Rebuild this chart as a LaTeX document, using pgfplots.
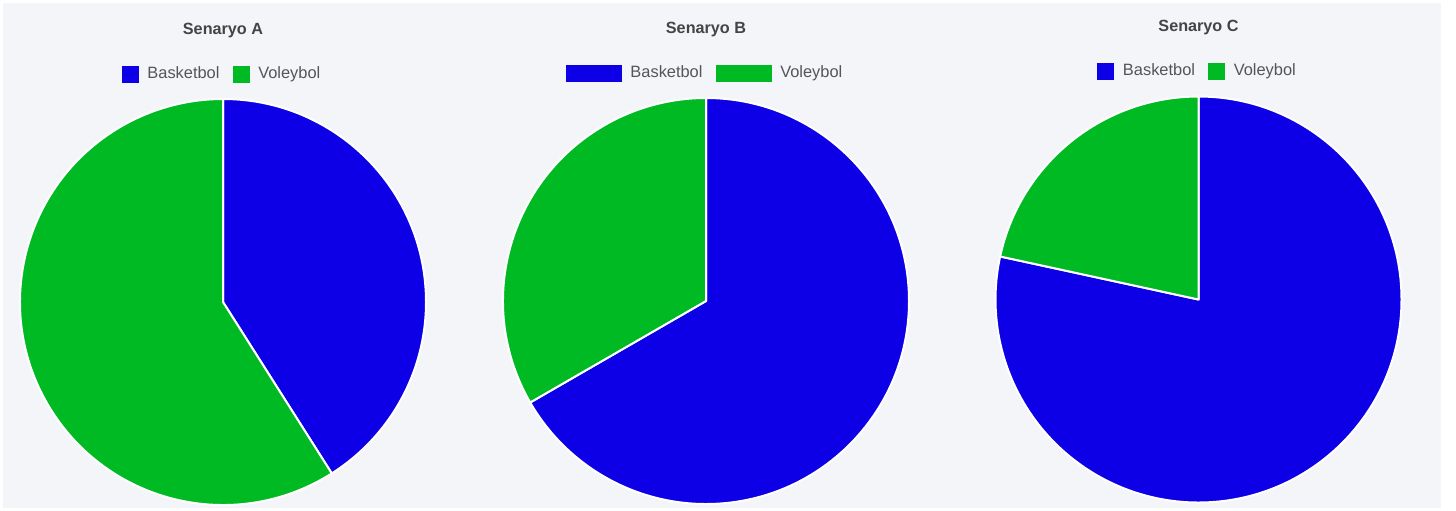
\documentclass[border=0pt]{standalone}
\usepackage{pgfplots}
\usepackage{pgfplotstable}
\pgfplotsset{compat=1.18}
\usepackage{fontspec}
\setmainfont{Liberation Sans}
\definecolor{bblue}{RGB}{14,0,230}
\definecolor{vgreen}{RGB}{0,186,36}
\definecolor{bg}{RGB}{244,245,249}
\definecolor{ttl}{RGB}{68,68,68}
\definecolor{lgd}{RGB}{85,85,85}

\pgfplotstableread{
senaryo basketbol voleybol
A 41 59
B 66.67 33.33
C 78.4 21.6
}\piedata

% #1 row, #2 cx px, #3 cy px, #4 title, #5 legend swatch width, #6 title shift
\newcommand\pie[6]{%
\pgfplotstablegetelem{#1}{basketbol}\of\piedata\edef\bval{\pgfplotsretval}%
\pgfplotstablegetelem{#1}{voleybol}\of\piedata\edef\vval{\pgfplotsretval}%
\pgfmathsetmacro\frac{\bval/(\bval+\vval)}%
\pgfmathsetmacro\ang{90-360*\frac}%
\begin{axis}[at={(#2*0.5pt,-#3*0.5pt)}, anchor=origin,
  scale only axis, width=203pt, height=203pt,
  xmin=-1, xmax=1, ymin=-1, ymax=1, axis lines=none, clip=false,
  title={#4},
  title style={at={(0.5,1)}, anchor=center, yshift=#6, font=\fontsize{8.1}{10}\selectfont\bfseries, text=ttl},
  legend columns=2,
  legend style={at={(0.5,1)}, anchor=center, yshift=12.5pt, draw=none, fill=none,
    font=\fontsize{8.2}{10}\selectfont, text=lgd,
    /tikz/every odd column/.append style={column sep=2.5pt},
    /tikz/every even column/.append style={column sep=4.5pt}},
  legend image code/.code={\fill[##1] (0pt,-4pt) rectangle (#5,4pt);}]
\addlegendimage{bblue}\addlegendentry{Basketbol}
\addlegendimage{vgreen}\addlegendentry{Voleybol}
\fill[bblue, draw=white, line width=1pt, line join=round] (axis cs:0,0) -- (axis cs:0,1)
   arc[start angle=90, end angle=\ang, radius=101.5pt] -- cycle;
\fill[vgreen, draw=white, line width=1pt, line join=round] (axis cs:0,0) -- (axis cs:{cos(\ang)},{sin(\ang)})
   arc[start angle=\ang, end angle=-270, radius=101.5pt] -- cycle;
\end{axis}}

\begin{document}
\begin{tikzpicture}
\path[use as bounding box] (0,0) rectangle (1456*0.5pt,-510*0.5pt);
\fill[white] (0,0) rectangle (1456*0.5pt,-510*0.5pt);
\fill[bg] (3*0.5pt,-3*0.5pt) rectangle (1441*0.5pt,-508*0.5pt);
\pie{0}{223}{302}{Senaryo A}{8pt}{28pt}
\pie{1}{706}{301}{Senaryo B}{27.5pt}{28pt}
\pie{2}{1198.5}{299.5}{Senaryo C}{8pt}{28.5pt}
\end{tikzpicture}
\end{document}
